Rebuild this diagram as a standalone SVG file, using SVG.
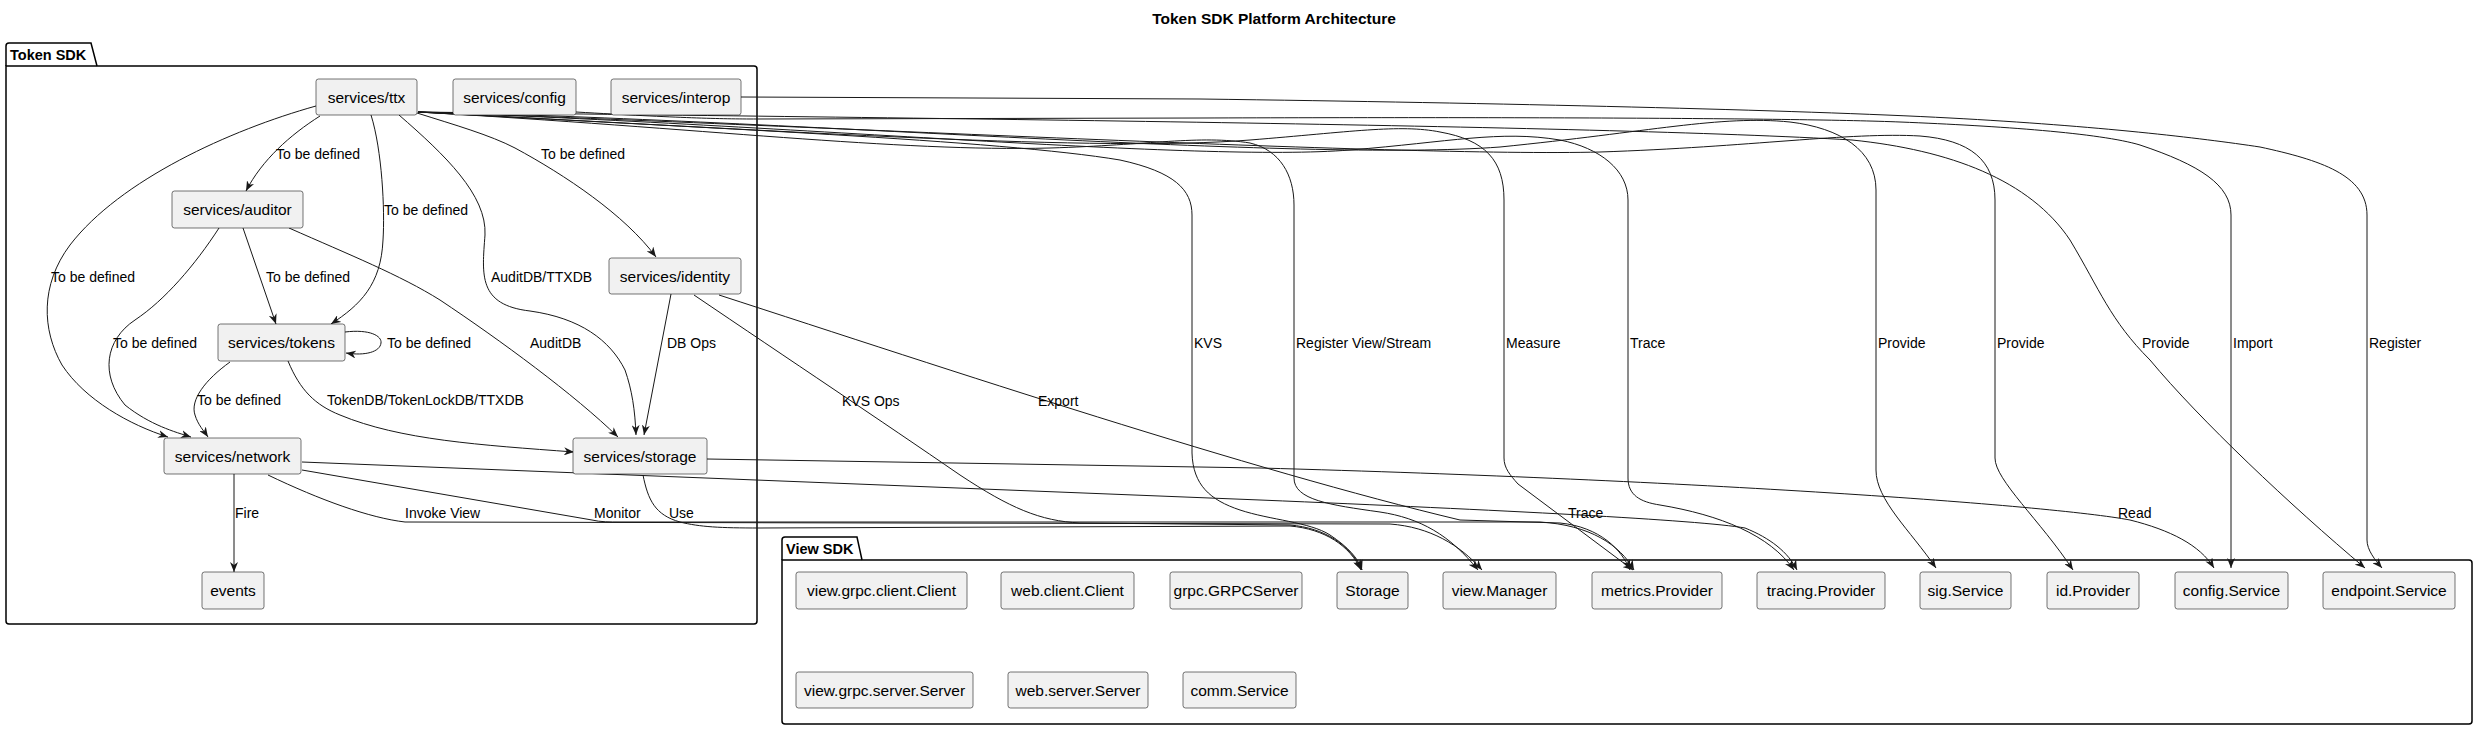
<svg xmlns="http://www.w3.org/2000/svg" width="2478" height="730" viewBox="0 0 2478 730">
<defs>
<marker id="arr" viewBox="0 0 10 8" refX="10" refY="4" markerWidth="10" markerHeight="8" markerUnits="userSpaceOnUse" orient="auto">
<path d="M0,0 L10,4 L0,8 L3,4 Z" fill="#181818"/>
</marker>
<style>
text{font-family:"Liberation Sans",Arial,sans-serif;fill:#000}
.title{font-size:15.5px;font-weight:bold}
.pkg{font-size:14.5px;font-weight:bold}
.frame{fill:none;stroke:#000;stroke-width:1.5}
.node rect{fill:#F1F1F1;stroke:#181818;stroke-width:0.6}
.node text{font-size:15.5px;text-anchor:middle}
.edges path{fill:none;stroke:#181818;stroke-width:1}
.edges path.a{marker-end:url(#arr)}
.lbl{font-size:14px}
</style>
</defs>
<rect width="2478" height="730" fill="#fff"/>
<text class="title" x="1274" y="24" text-anchor="middle">Token SDK Platform Architecture</text>

<g id="pkg-token-sdk">
<path class="frame" d="M6,66 L6,46 Q6,43 9,43 L91,43 L97,66"/>
<path class="frame" d="M6,66 L754,66 Q757,66 757,69 L757,621 Q757,624 754,624 L9,624 Q6,624 6,621 Z"/>
<text class="pkg" x="10" y="60">Token SDK</text>
</g>
<g id="pkg-view-sdk">
<path class="frame" d="M782,560 L782,540 Q782,537 785,537 L857,537 L862,560"/>
<path class="frame" d="M782,560 L2469,560 Q2472,560 2472,563 L2472,721 Q2472,724 2469,724 L785,724 Q782,724 782,721 Z"/>
<text class="pkg" x="786" y="554">View SDK</text>
</g>

<g class="edges" id="connectors">
<!-- Token SDK internal -->
<path class="a" d="M320,116 C290,135 262,160 246,191"/>
<path class="a" d="M371,115 C382,150 385,210 383,240 C381,285 360,305 331,324"/>
<path class="a" d="M316,106 C230,130 120,180 70,245 C40,285 42,330 62,365 C85,400 130,425 168,437"/>
<path class="a" d="M417,113 C455,125 490,135 515,148 C565,175 625,215 656,257"/>
<path class="a" d="M399,115 C445,155 487,195 485,235 C482,275 478,305 530,311 C580,318 610,340 625,370 C632,390 635,410 636,435"/>
<path class="a" d="M219,228 C195,265 165,300 135,320 C105,340 100,375 125,405 C150,425 175,432 191,437"/>
<path class="a" d="M243,228 L276,324"/>
<path class="a" d="M289,228 C350,255 400,275 440,300 C500,340 575,395 618,437"/>
<path class="a" d="M345,332 C370,329 382,336 381,343 C380,352 365,356 346,353"/>
<path class="a" d="M230,362 C205,380 190,400 195,415 C198,425 204,431 208,437"/>
<path class="a" d="M288,361 C300,390 315,405 340,415 C400,440 480,445 574,452"/>
<path class="a" d="M234,474 L234,572"/>
<path class="a" d="M671,294 L644,435"/>
<!-- ttx to View SDK -->
<path class="a" d="M418,112 C700,128 1000,140 1120,160 C1175,172 1192,190 1192,215 L1192,453 C1193,485 1210,500 1240,510 C1270,520 1310,522 1330,535 C1348,547 1358,558 1362,570"/>
<path class="a" d="M418,112 C700,128 900,152 1050,148 C1150,145 1200,135 1250,143 C1280,150 1294,175 1294,205 L1294,478 C1294,500 1330,505 1380,512 C1420,518 1450,535 1478,570"/>
<path class="a" d="M418,112 C800,132 1100,152 1250,140 C1350,132 1400,124 1440,132 C1485,140 1504,160 1504,200 L1504,458 C1504,468 1510,475 1518,484 L1633,570"/>
<path class="a" d="M418,112 C800,125 1200,162 1350,150 C1450,142 1500,130 1560,140 C1600,148 1628,170 1628,200 L1628,478 C1628,495 1640,502 1660,505 C1720,515 1770,535 1794,570"/>
<path class="a" d="M418,112 C800,120 1300,162 1500,147 C1650,132 1720,115 1790,122 C1840,128 1876,150 1876,190 L1876,470 C1876,500 1910,530 1936,568"/>
<path class="a" d="M418,112 C800,125 1400,157 1600,152 C1750,147 1850,132 1920,136 C1970,140 1995,160 1995,200 L1995,458 C1995,480 2040,520 2073,570"/>
<path class="a" d="M418,112 C900,118 1600,125 1852,140 C1950,150 2030,180 2070,240 C2100,290 2110,320 2150,360 C2200,420 2290,505 2365,568"/>
<!-- config / interop -->
<path class="a" d="M576,112 C680,118 720,119 757,119 L1200,118 C1500,117 1800,118 1900,122 C2000,126 2100,133 2140,145 C2200,165 2231,185 2231,215 L2231,568"/>
<path class="a" d="M741,97 L1200,99 C1500,103 1800,110 1950,118 C2100,126 2200,138 2260,147 C2320,160 2367,175 2367,215 L2367,540 C2367,550 2375,560 2382,568"/>
<!-- identity -->
<path class="a" d="M694,295 C790,360 880,420 960,475 C1010,508 1040,521 1080,523 L1290,525 C1325,528 1350,545 1362,570"/>
<path class="a" d="M719,295 C950,370 1250,470 1460,520 L1560,523 C1600,527 1622,550 1630,570"/>
<!-- network -->
<path class="a" d="M268,475 C320,500 370,518 405,522 L1390,524 C1430,527 1460,545 1482,570"/>
<path class="a" d="M302,470 L592,520 C600,522 610,522 620,522 L1540,522 C1590,525 1620,545 1634,570"/>
<path class="a" d="M302,462 L1260,500 C1500,510 1700,520 1745,528 C1770,538 1788,552 1797,570"/>
<!-- storage -->
<path class="a" d="M643,475 C648,500 655,515 680,522 C700,527 720,528 760,528 L1290,526 C1325,529 1350,546 1361,570"/>
<path class="a" d="M707,459 L1260,468 C1700,480 2050,505 2130,520 C2170,530 2200,545 2214,568"/>
</g>

<g id="edge-labels">
<text class="lbl" x="276" y="159">To be defined</text>
<text class="lbl" x="384" y="215">To be defined</text>
<text class="lbl" x="541" y="159">To be defined</text>
<text class="lbl" x="51" y="282">To be defined</text>
<text class="lbl" x="266" y="282">To be defined</text>
<text class="lbl" x="491" y="282">AuditDB/TTXDB</text>
<text class="lbl" x="113" y="348">To be defined</text>
<text class="lbl" x="387" y="348">To be defined</text>
<text class="lbl" x="530" y="348">AuditDB</text>
<text class="lbl" x="667" y="348">DB Ops</text>
<text class="lbl" x="197" y="405">To be defined</text>
<text class="lbl" x="327" y="405">TokenDB/TokenLockDB/TTXDB</text>
<text class="lbl" x="235" y="518">Fire</text>
<text class="lbl" x="405" y="518">Invoke View</text>
<text class="lbl" x="594" y="518">Monitor</text>
<text class="lbl" x="669" y="518">Use</text>
<text class="lbl" x="842" y="406">KVS Ops</text>
<text class="lbl" x="1038" y="406">Export</text>
<text class="lbl" x="1194" y="348">KVS</text>
<text class="lbl" x="1296" y="348">Register View/Stream</text>
<text class="lbl" x="1506" y="348">Measure</text>
<text class="lbl" x="1630" y="348">Trace</text>
<text class="lbl" x="1878" y="348">Provide</text>
<text class="lbl" x="1997" y="348">Provide</text>
<text class="lbl" x="2142" y="348">Provide</text>
<text class="lbl" x="2233" y="348">Import</text>
<text class="lbl" x="2369" y="348">Register</text>
<text class="lbl" x="1568" y="518">Trace</text>
<text class="lbl" x="2118" y="518">Read</text>
</g>

<g id="services-ttx" class="node"><rect x="316" y="79" width="101" height="36" rx="2.5"/><text x="366.5" y="102.5">services/ttx</text></g>
<g id="services-config" class="node"><rect x="453" y="79" width="123" height="36" rx="2.5"/><text x="514.5" y="102.5">services/config</text></g>
<g id="services-interop" class="node"><rect x="611" y="79" width="130" height="36" rx="2.5"/><text x="676" y="102.5">services/interop</text></g>
<g id="services-auditor" class="node"><rect x="172" y="191" width="131" height="37" rx="2.5"/><text x="237.5" y="215">services/auditor</text></g>
<g id="services-identity" class="node"><rect x="609" y="258" width="132" height="36" rx="2.5"/><text x="675" y="281.5">services/identity</text></g>
<g id="services-tokens" class="node"><rect x="218" y="324" width="127" height="37" rx="2.5"/><text x="281.5" y="348">services/tokens</text></g>
<g id="services-network" class="node"><rect x="164" y="438" width="137" height="36" rx="2.5"/><text x="232.5" y="461.5">services/network</text></g>
<g id="services-storage" class="node"><rect x="573" y="438" width="134" height="36" rx="2.5"/><text x="640" y="461.5">services/storage</text></g>
<g id="events" class="node"><rect x="202" y="572" width="62" height="37" rx="2.5"/><text x="233" y="596">events</text></g>

<g id="view-grpc-client-Client" class="node"><rect x="796" y="572" width="171" height="37" rx="2.5"/><text x="881.5" y="596">view.grpc.client.Client</text></g>
<g id="web-client-Client" class="node"><rect x="1001" y="572" width="133" height="37" rx="2.5"/><text x="1067.5" y="596">web.client.Client</text></g>
<g id="grpc-GRPCServer" class="node"><rect x="1170" y="572" width="132" height="37" rx="2.5"/><text x="1236" y="596">grpc.GRPCServer</text></g>
<g id="Storage" class="node"><rect x="1337" y="572" width="71" height="37" rx="2.5"/><text x="1372.5" y="596">Storage</text></g>
<g id="view-Manager" class="node"><rect x="1443" y="572" width="113" height="37" rx="2.5"/><text x="1499.5" y="596">view.Manager</text></g>
<g id="metrics-Provider" class="node"><rect x="1592" y="572" width="130" height="37" rx="2.5"/><text x="1657" y="596">metrics.Provider</text></g>
<g id="tracing-Provider" class="node"><rect x="1757" y="572" width="128" height="37" rx="2.5"/><text x="1821" y="596">tracing.Provider</text></g>
<g id="sig-Service" class="node"><rect x="1920" y="572" width="91" height="37" rx="2.5"/><text x="1965.5" y="596">sig.Service</text></g>
<g id="id-Provider" class="node"><rect x="2047" y="572" width="92" height="37" rx="2.5"/><text x="2093" y="596">id.Provider</text></g>
<g id="config-Service" class="node"><rect x="2175" y="572" width="113" height="37" rx="2.5"/><text x="2231.5" y="596">config.Service</text></g>
<g id="endpoint-Service" class="node"><rect x="2323" y="572" width="132" height="37" rx="2.5"/><text x="2389" y="596">endpoint.Service</text></g>
<g id="view-grpc-server-Server" class="node"><rect x="796" y="672" width="177" height="36" rx="2.5"/><text x="884.5" y="695.5">view.grpc.server.Server</text></g>
<g id="web-server-Server" class="node"><rect x="1008" y="672" width="140" height="36" rx="2.5"/><text x="1078" y="695.5">web.server.Server</text></g>
<g id="comm-Service" class="node"><rect x="1183" y="672" width="113" height="36" rx="2.5"/><text x="1239.5" y="695.5">comm.Service</text></g>
</svg>
